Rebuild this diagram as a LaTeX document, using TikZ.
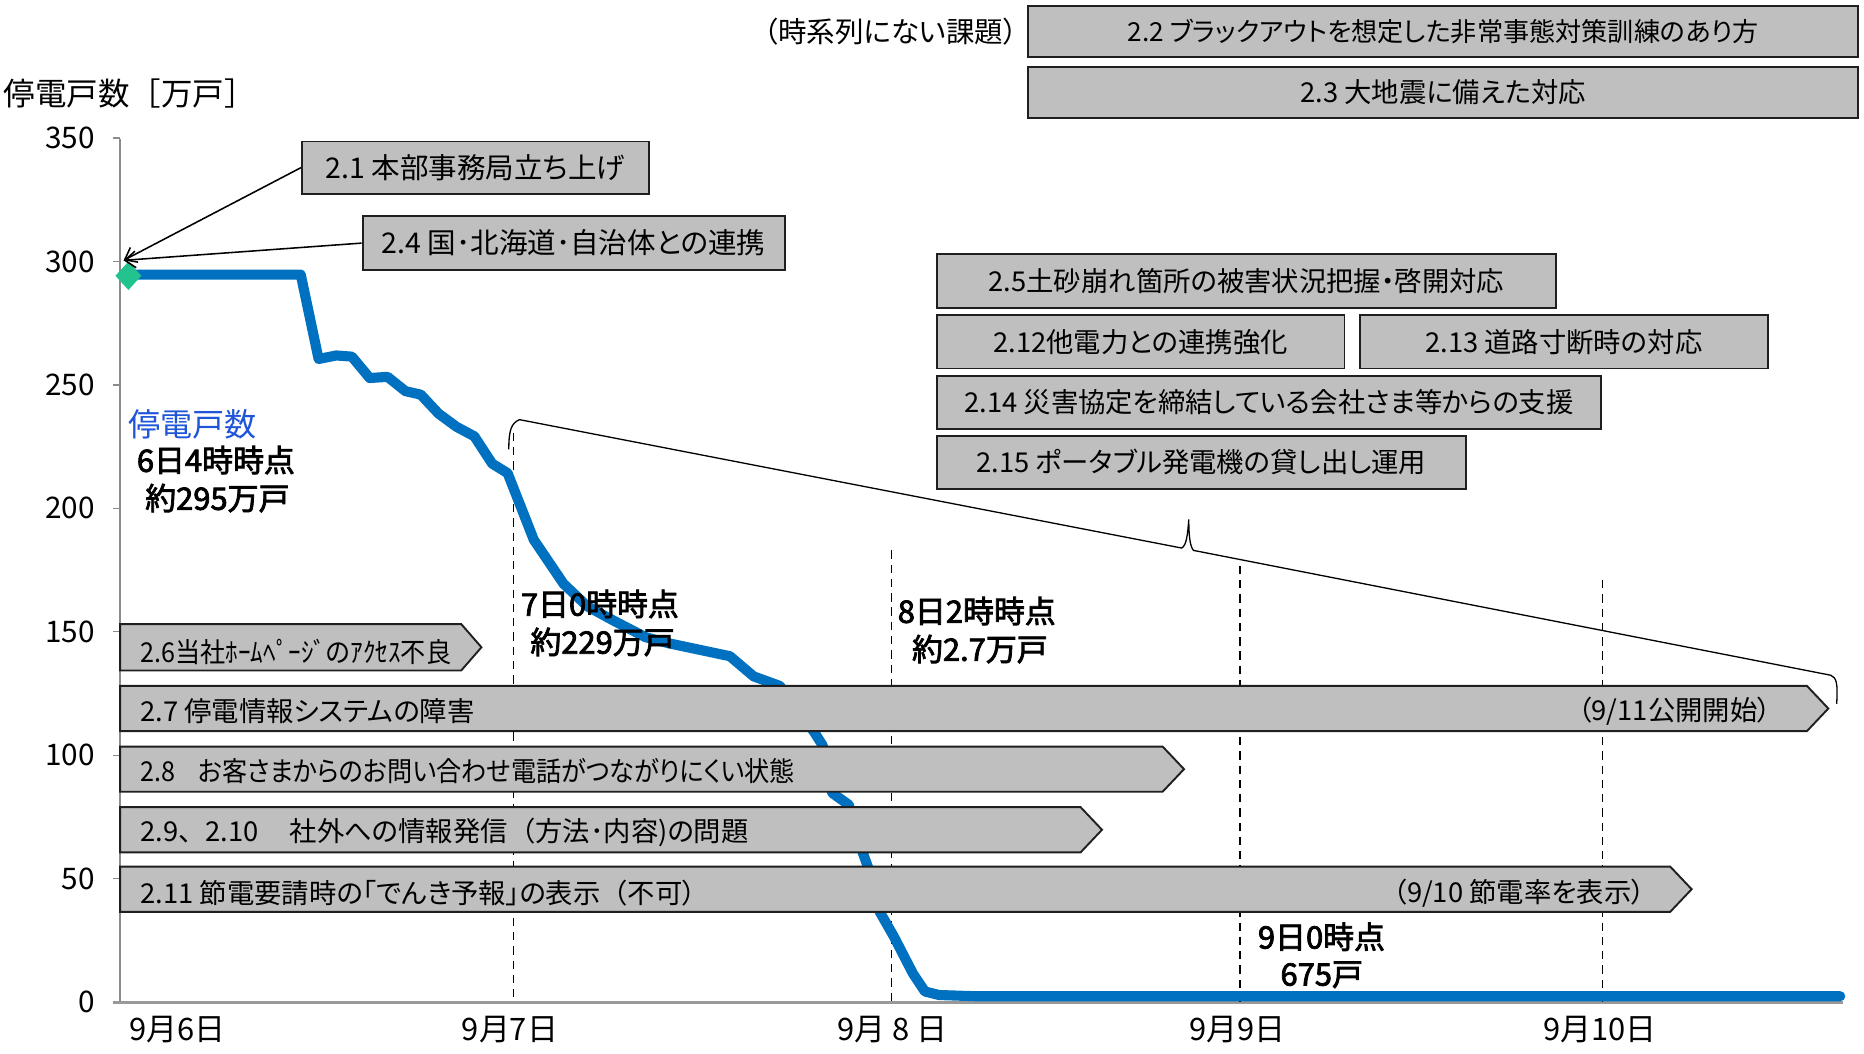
\documentclass[tikz,border=0pt]{standalone}
\usepackage{fontspec}
\setmainfont{Noto Sans CJK JP}[RawFeature=+palt]
\newfontfamily\np{Noto Sans CJK JP}
\newfontfamily\cond{Noto Sans CJK JP}[RawFeature=+palt, FakeStretch=0.92]
\newfontfamily\annfam{Noto Sans CJK JP}[FakeBold=2.5]
\usetikzlibrary{arrows.meta,shapes.geometric}
\definecolor{boxgray}{HTML}{BFBFBF}
\definecolor{curveblue}{HTML}{0070C0}
\definecolor{lblblue}{HTML}{1F55D8}
\definecolor{startgreen}{HTML}{22C38E}
\definecolor{axisgray}{HTML}{8C8C8C}
\newcommand\boxfont{\fontsize{23}{27}\selectfont}
\newcommand\annfont{\fontsize{26}{30}\selectfont\annfam}
\newcommand\axfont{\fontsize{25}{29}\selectfont}
\begin{document}
\begin{tikzpicture}[x=1pt,y=-1pt,
  tbox/.style={draw=black!88, line width=1.6pt, fill=boxgray, inner sep=0pt, font=\boxfont, text=black},
  abox/.style={draw=black!88, line width=1.6pt, fill=boxgray},
  atext/.style={inner sep=0pt, font=\boxfont, text=black},
  ann/.style={inner sep=0pt, font=\annfont, anchor=west},
  axlbl/.style={inner sep=0pt, font=\axfont},
  xlbl/.style={inner sep=0pt, font=\fontsize{26}{30}\selectfont},
  vdash/.style={black, line width=1pt, dash pattern=on 7pt off 5pt},
  curve/.style={curveblue, line width=8.5pt, line join=round, line cap=round},
  arr/.style={black, line width=1.3pt, -{Straight Barb[length=9pt,width=14pt]}},
]
\useasboundingbox (0,0) rectangle (1568,886);

% axes
\draw[axisgray, line width=1.2pt] (101,117) -- (101,843);
\foreach \v in {0,50,...,350}{
  \draw[axisgray, line width=1.2pt] (95,{843-2.077*\v}) -- (101,{843-2.077*\v});
  \node[axlbl, anchor=east] at (80,{843-2.077*\v}) {\v};
}
\draw[black!40, line width=2.5pt] (95,843) -- (1550,843);
\node[axlbl, anchor=west, font=\fontsize{26.5}{30}\selectfont\np] (ytitle) at (3,79) {停電戸数［万戸］};

% x labels
\node[xlbl] (d6) at (149,866) {9月6日};
\node[xlbl] (d7) at (429,866) {9月7日};
\node[xlbl] (d8) at (751,866) {9月 8 日};
\node[xlbl] (d9) at (1041,866) {9月9日};
\node[xlbl] (d10) at (1346,866) {9月10日};

% dashed verticals
\draw[vdash] (432,364) -- (432,843);
\draw[vdash] (750,463) -- (750,843);
\draw[vdash] (1043,476) -- (1043,843);
\draw[vdash] (1348,488) -- (1348,843);

% curve
\coordinate (c0) at (108,231);
\draw[curve] (c0) -- (253,231) -- (268,302) -- (283,299) -- (296,300) -- (311,318) -- (326,317) -- (341,329) -- (354,332) -- (369,348) -- (384,359) -- (399,367) -- (414,390) -- (427,398) -- (449,454) -- (474,491) -- (494,510) -- (516,522) -- (543,536) -- (562,541) -- (614,552) -- (634,569) -- (656,577) -- (685,616) -- (692,627) -- (700,667) -- (714,677) -- (726,718) -- (730,729) -- (740,767) -- (752,788) -- (768,819) -- (778,834) -- (790,837) -- (820,838) -- (1548,838);
\node[diamond, fill=startgreen, inner sep=0pt, minimum width=22pt, minimum height=24pt] (start) at (108,232) {};

% brace
\draw[black, line width=1.1pt] (428,378) .. controls (428,362) and (430,356) .. (437,353) -- (994,461) .. controls (998,459) and (999,450) .. (1000,437) .. controls (1000,450) and (1001,460) .. (1004,463) -- (1540,568) .. controls (1545,570) and (1546,575) .. (1545,592);

% top boxes
\node (nts) [atext, anchor=east, font=\fontsize{24}{28}\selectfont] at (856,27) {（時系列にない課題）};
\node[tbox, minimum width=698pt, minimum height=43pt, font=\fontsize{22}{26}\selectfont] (b22) at (1214,26.5) {2.2 ブラックアウトを想定した非常事態対策訓練のあり方};
\node[tbox, minimum width=698pt, minimum height=43pt] (b23) at (1214,77.5) {2.3 大地震に備えた対応};
\node[tbox, minimum width=292pt, minimum height=44pt, font=\fontsize{24}{28}\selectfont] (b21) at (400,141) {2.1 本部事務局立ち上げ};
\node[tbox, minimum width=355pt, minimum height=45pt, font=\fontsize{24}{28}\selectfont] (b24) at (482.5,204.5) {2.4 国･北海道･自治体との連携};
\node[tbox, minimum width=521pt, minimum height=45pt] (b25) at (1048.5,236.5) {2.5土砂崩れ箇所の被害状況把握・啓開対応};
\node[tbox, minimum width=343pt, minimum height=45pt] (b212) at (959.5,287.5) {2.12他電力との連携強化};
\node[tbox, minimum width=343pt, minimum height=45pt] (b213) at (1315.5,287.5) {2.13 道路寸断時の対応};
\node[tbox, minimum width=559pt, minimum height=45pt] (b214) at (1067.5,338.5) {2.14 災害協定を締結している会社さま等からの支援};
\node[tbox, minimum width=445pt, minimum height=44pt] (b215) at (1010.5,389) {2.15 ポータブル発電機の貸し出し運用};

% arrows to start
\coordinate (tip) at (104,219);
\draw[arr] (b21.west) -- (tip);
\draw[arr] (b24.west) -- (tip);

% arrow-shaped bars
\draw[abox] (101,525) -- (388,525) -- (405,544.5) -- (388,564) -- (101,564) -- cycle;
\node[atext, anchor=west, font=\boxfont\cond] (t26) at (118,548) {2.6当社ﾎｰﾑﾍﾟｰｼﾞのｱｸｾｽ不良};
\draw[abox] (101,577) -- (1520,577) -- (1538,596) -- (1520,615) -- (101,615) -- cycle;
\node[atext, anchor=west] (t27) at (118,598) {2.7 停電情報システムの障害};
\node[atext, anchor=east] (t27r) at (1490,598) {（9/11公開開始）};
\draw[abox] (101,628) -- (978,628) -- (996,647) -- (978,666) -- (101,666) -- cycle;
\node[atext, anchor=west, font=\boxfont\cond] (t28) at (118,649) {2.8\hspace{19pt}お客さまからのお問い合わせ電話がつながりにくい状態};
\draw[abox] (101,679) -- (909,679) -- (927,698) -- (909,717) -- (101,717) -- cycle;
\node[atext, anchor=west] (t29) at (118,700) {2.9{\np 、}2.10\hspace{26pt}社外への情報発信{\np （}方法･内容)の問題};
\draw[abox] (101,729) -- (1405,729) -- (1423,748) -- (1405,767) -- (101,767) -- cycle;
\node[atext, anchor=west] (t211) at (118,751) {2.11 節電要請時の「でんき予報」の表示{\np （}不可）};
\node[atext, anchor=east] (t211r) at (1384,751) {（9/10 節電率を表示）};

% annotations
\node[inner sep=0pt, anchor=west, text=lblblue, font=\fontsize{27}{31}\selectfont] (lbl) at (108,357) {停電戸数};
\node[ann] (a1) at (115,387) {6日4時時点};
\node[ann] (a2) at (122,419) {約295万戸};
\node[ann] (a3) at (438,508) {7日0時時点};
\node[ann] (a4) at (446,540) {約229万戸};
\node[ann] (a5) at (755,514) {8日2時時点};
\node[ann] (a6) at (767,546) {約2.7万戸};
\node[ann] (a7) at (1058,788) {9日0時点};
\node[ann] (a8) at (1077,820) {675戸};
\end{tikzpicture}
\end{document}
